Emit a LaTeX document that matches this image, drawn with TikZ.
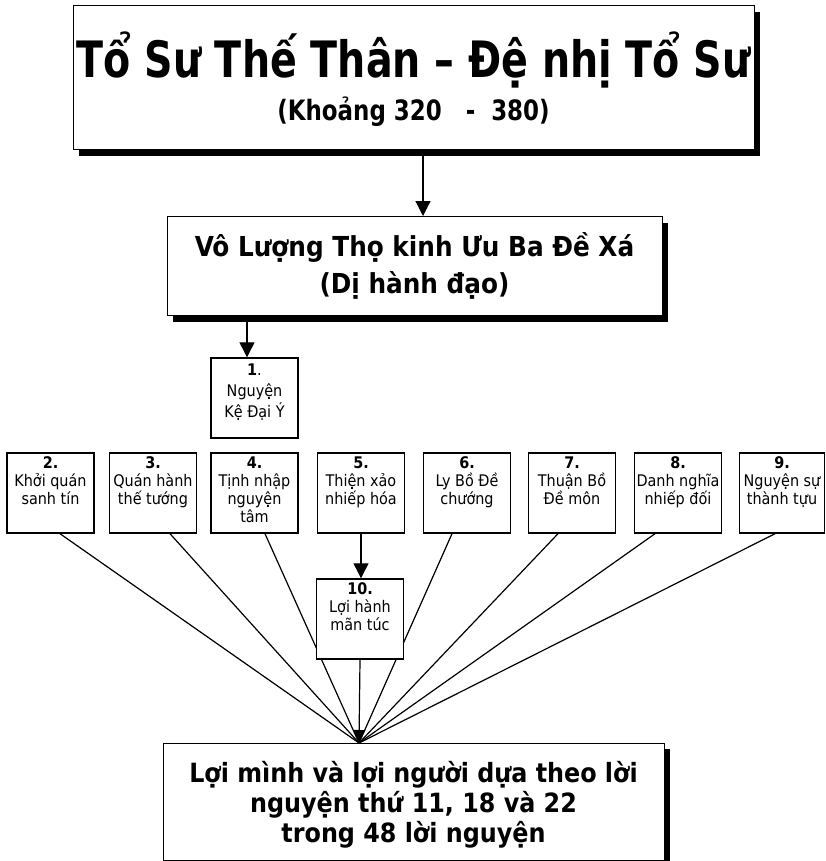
\documentclass[tikz,border=0pt]{standalone}
\usepackage{fontspec}
\setmainfont{DejaVu Sans Condensed}
\usetikzlibrary{arrows.meta,calc,shadows}
\begin{document}
\begin{tikzpicture}[x=1pt,y=-1pt,
  bigbox/.style={draw, line width=1pt, fill=white, inner sep=0pt,
    drop shadow={shadow xshift=6pt, shadow yshift=-6pt, fill=black, opacity=1}},
  smallbox/.style={draw, line width=1.4pt, fill=white, inner sep=0pt,
    minimum width=87pt, minimum height=80pt},
  smalltext/.style={anchor=north, align=center, inner sep=0pt,
    font=\fontsize{16}{18}\selectfont},
  link/.style={line width=1.2pt},
  arr/.style={line width=1.2pt, -{Triangle[length=15pt,width=15pt]}},
  arrs/.style={line width=1.2pt, -{Triangle[length=13pt,width=12pt]}}]
\useasboundingbox (0,0) rectangle (826,861);

% top box
\node[bigbox, minimum width=681pt, minimum height=144pt] (top) at (413.5,78) {};
\node[align=center, inner sep=0pt] (toptitle) at (413.5,60)
  {\fontsize{44}{50}\selectfont\bfseries\scalebox{1}[1.14]{Tổ Sư Thế Thân – Đệ nhị Tổ Sư}};
\node[align=center, inner sep=0pt] (topsub) at (413.5,112)
  {\fontsize{25.5}{28}\selectfont\bfseries\scalebox{1}[1.1]{(Khoảng 320\ \ \ -\ \ 380)}};

% second box
\node[bigbox, minimum width=495pt, minimum height=99pt, align=center,
  font=\fontsize{27.5}{37}\selectfont\bfseries] (vo) at (414.5,266)
  {Vô Lượng Thọ kinh Ưu Ba Đề Xá\\(Dị hành đạo)};

% bottom box
\node[bigbox, minimum width=501pt, minimum height=117pt, inner sep=0pt] (res) at (413.5,801.5) {};
\node[align=center, inner sep=0pt,
  font=\fontsize{26.5}{30}\selectfont\bfseries] (restext) at (413.5,805)
  {Lợi mình và lợi người dựa theo lời\\nguyện thứ 11, 18 và 22\\trong 48 lời nguyện};

\coordinate (P) at (359,743);

% box 1
\node[smallbox] (b1) at (254.5,398) {};
\node[smalltext, font=\fontsize{16}{21}\selectfont] (t1) at ([yshift=-6pt]b1.north) {\textbf{1}.\\Nguyện\\Kệ Đại Ý};

% row boxes
\node[smallbox] (b2) at (50.5,493) {};
\node[smalltext] (t2) at ([yshift=-4pt]b2.north) {\textbf{2.}\\Khởi quán\\sanh tín};
\node[smallbox] (b3) at (153,493) {};
\node[smalltext] (t3) at ([yshift=-4pt]b3.north) {\textbf{3.}\\Quán hành\\thế tướng};
\node[smallbox] (b4) at (254.5,493) {};
\node[smalltext] (t4) at ([yshift=-4pt]b4.north) {\textbf{4.}\\Tịnh nhập\\nguyện\\tâm};
\node[smallbox] (b5) at (361,493) {};
\node[smalltext] (t5) at ([yshift=-4pt]b5.north) {\textbf{5.}\\Thiện xảo\\nhiếp hóa};
\node[smallbox] (b6) at (467,493) {};
\node[smalltext] (t6) at ([yshift=-4pt]b6.north) {\textbf{6.}\\Ly Bồ Đề\\chướng};
\node[smallbox] (b7) at (572,493) {};
\node[smalltext] (t7) at ([yshift=-4pt]b7.north) {\textbf{7.}\\Thuận Bồ\\Đề môn};
\node[smallbox] (b8) at (678,493) {};
\node[smalltext] (t8) at ([yshift=-4pt]b8.north) {\textbf{8.}\\Danh nghĩa\\nhiếp đối};
\node[smallbox, minimum width=85pt] (b9) at (782,493) {};
\node[smalltext] (t9) at ([yshift=-4pt]b9.north) {\textbf{9.}\\Nguyện sự\\thành tựu};

% lines to the result (behind box 10)
\draw[link] ([xshift=9.5pt]b2.south) -- (P);
\draw[link] ([xshift=17pt]b3.south) -- (P);
\draw[link] ([xshift=10.5pt]b4.south) -- (P);
\draw[link] ([xshift=-15pt]b6.south) -- (P);
\draw[link] ([xshift=-14pt]b7.south) -- (P);
\draw[link] ([xshift=-23pt]b8.south) -- (P);
\draw[link] ([xshift=-7pt]b9.south) -- (P);

% box 10
\node[smallbox] (b10) at (360,619) {};
\node[smalltext] (t10) at ([yshift=-4pt]b10.north) {\textbf{10.}\\Lợi hành\\mãn túc};

% arrows
\draw[arr] ([xshift=9.5pt]top.south) -- ([xshift=8.5pt]vo.north);
\draw[arr] ([xshift=-167.5pt]vo.south) -- ([xshift=-7.5pt]b1.north);
\draw[arr] (b5.south) -- (b5.south |- b10.north);
\draw[arrs] (b10.south) -- (P);
\end{tikzpicture}
\end{document}
